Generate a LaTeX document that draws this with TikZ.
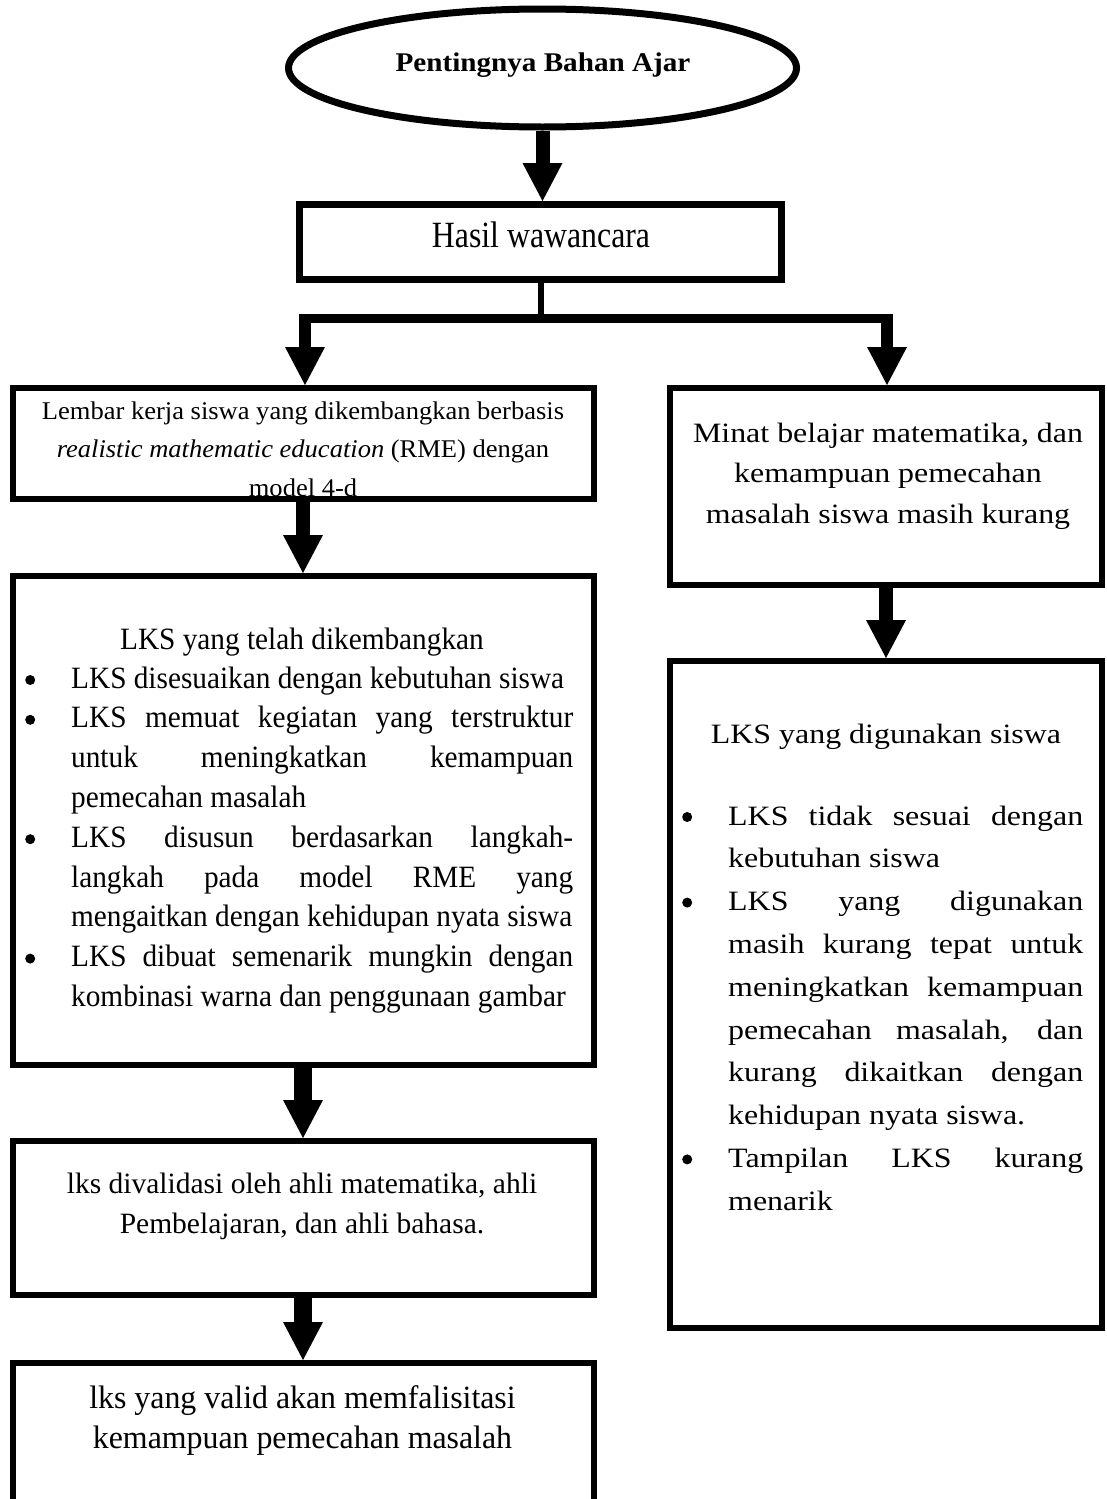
\documentclass[tikz,border=0pt]{standalone}
\usepackage{fontspec}
\setmainfont{Liberation Serif}
\newfontfamily\fTitle[FakeStretch=1.08]{Liberation Serif}
\newfontfamily\fHasil[FakeStretch=0.86]{Liberation Serif}
\newfontfamily\fLembar[FakeStretch=1.04]{Liberation Serif}
\newfontfamily\fLeft[FakeStretch=0.945]{Liberation Serif}
\newfontfamily\fRight[FakeStretch=1.14]{Liberation Serif}
\newfontfamily\fFinal[FakeStretch=0.98]{Liberation Serif}
\usetikzlibrary{arrows.meta,shapes.geometric}
\newcommand{\bigdot}{\tikz[baseline=0pt]{\fill (5.5pt,8pt) circle (5pt);}}
\newcommand{\bulletitem}[1]{\par\hangindent=46pt\hangafter=1\noindent\makebox[46pt][l]{\bigdot}#1\par}
\newcommand{\mysetpar}{\tolerance=10000\hyphenpenalty=10000\parindent=0pt\parskip=0pt}
\tikzset{
  box/.style={draw, line width=6pt, inner sep=0pt, minimum width=581pt},
  bigarrow/.style={line width=14pt, -{Triangle[length=38pt,width=40pt,line width=0pt]}},
  txt/.style={inner sep=0pt, anchor=base},
}
\begin{document}
\begin{tikzpicture}[x=1pt,y=-1pt]
\useasboundingbox (0,0) rectangle (1106,1499);
\clip (0,0) rectangle (1106,1499);
\fill[white] (0,0) rectangle (1106,1499);

% ---------- texts ----------
\node[txt] (tTitle) at (543,71) {\fTitle\bfseries\fontsize{27}{32}\selectfont Pentingnya Bahan Ajar};
\node[txt] (tHasil) at (541,247) {\fHasil\fontsize{37}{40}\selectfont Hasil wawancara};
\node[txt] (tLembar) at (303,419) {\parbox[t]{570pt}{\fLembar\fontsize{25.5}{38.5}\selectfont\centering
  Lembar kerja siswa yang dikembangkan berbasis\\
  \textit{realistic mathematic education} (RME) dengan\\
  model 4-d}};
\node[txt] (tL1) at (302,649) {\fLeft\fontsize{31}{39.8}\selectfont LKS yang telah dikembangkan};
\node[txt, anchor=base west] (lL1) at (25,688) {\parbox[t]{548pt}{\fLeft\fontsize{31}{39.8}\selectfont\mysetpar
  \bulletitem{LKS disesuaikan dengan kebutuhan siswa}
  \bulletitem{LKS memuat kegiatan yang terstruktur\linebreak untuk meningkatkan kemampuan\linebreak pemecahan masalah}
  \bulletitem{LKS disusun berdasarkan langkah-\linebreak langkah pada model RME yang\linebreak mengaitkan dengan kehidupan nyata siswa}
  \bulletitem{LKS dibuat semenarik mungkin dengan\linebreak kombinasi warna dan penggunaan gambar}}};
\node[txt] (tValid) at (302,1193) {\parbox[t]{570pt}{\fontsize{29.5}{40}\selectfont\centering
  lks divalidasi oleh ahli matematika, ahli\\
  Pembelajaran, dan ahli bahasa.}};
\node[txt] (tFinal) at (302.5,1408) {\parbox[t]{570pt}{\fFinal\fontsize{32.5}{40}\selectfont\centering
  lks yang valid akan memfalisitasi\\
  kemampuan pemecahan masalah}};
\node[txt] (tMinat) at (888,442) {\parbox[t]{430pt}{\fRight\fontsize{28}{40.5}\selectfont\centering
  Minat belajar matematika, dan\\
  kemampuan pemecahan\\
  masalah siswa masih kurang}};
\node[txt] (tL2) at (886,743) {\fRight\fontsize{28}{42.8}\selectfont LKS yang digunakan siswa};
\node[txt, anchor=base west] (lL2) at (682,825) {\parbox[t]{401pt}{\fRight\fontsize{28}{42.8}\selectfont\mysetpar
  \bulletitem{LKS tidak sesuai dengan\linebreak kebutuhan siswa}
  \bulletitem{LKS yang digunakan\linebreak masih kurang tepat untuk\linebreak meningkatkan kemampuan\linebreak pemecahan masalah, dan\linebreak kurang dikaitkan dengan\linebreak kehidupan nyata siswa.}
  \bulletitem{Tampilan LKS kurang\linebreak menarik}}};

% ---------- shapes ----------
\node[draw, ellipse, line width=7pt, minimum width=508pt, minimum height=118pt, inner sep=0pt] (ell) at (542.5,68) {};
\node[box, line width=7pt, minimum width=482pt, minimum height=75pt] (hasil) at (540.5,242) {};
\node[box, minimum height=111pt] (lembar) at (303,443.5) {};
\node[box, minimum height=489pt] (lks1) at (303,820.5) {};
\node[box, minimum height=154pt] (valid) at (303,1218) {};
\node[box, minimum height=234pt] (final) at (303,1480) {};
\node[box, minimum width=432pt, minimum height=197pt] (minat) at (886,486.5) {};
\node[box, minimum width=432pt, minimum height=667pt] (lks2) at (886,994.5) {};

% ---------- connectors ----------
\coordinate (sl) at (305,318);
\coordinate (sr) at (887,318);
\draw[bigarrow] (ell.south) -- (ell.south |- hasil.north);
\draw[line width=6pt] (hasil.south) -- (hasil.south |- sl);
\draw[line width=9pt, shorten <=-6pt, shorten >=-6pt] (sl) -- (sr);
\draw[bigarrow, line width=12pt] (sl) -- (sl |- lembar.north);
\draw[bigarrow, line width=12pt] (sr) -- (sr |- minat.north);
\draw[bigarrow] (lembar.south) -- (lks1.north);
\draw[bigarrow] (minat.south) -- (lks2.north);
\draw[bigarrow, line width=18pt] (lks1.south) -- (valid.north);
\draw[bigarrow, line width=18pt] (valid.south) -- (final.north);
\end{tikzpicture}
\end{document}
